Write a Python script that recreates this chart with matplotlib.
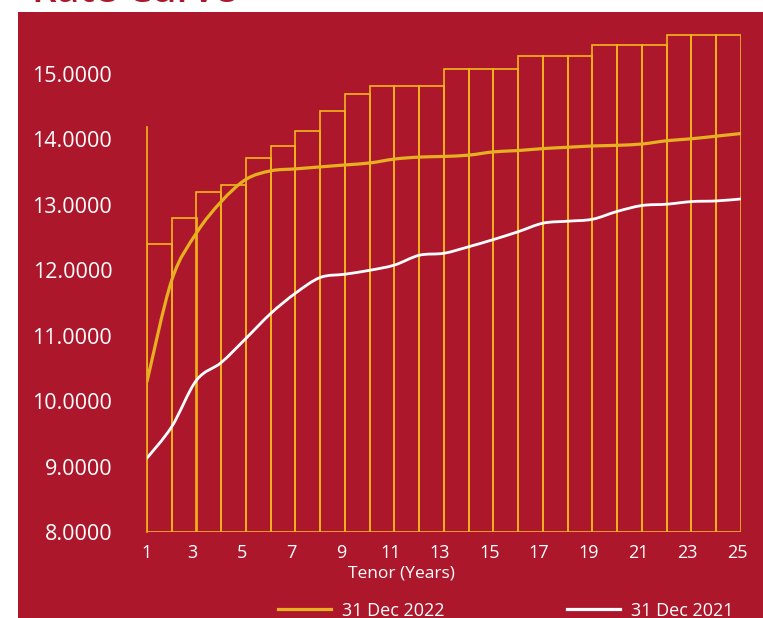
import numpy as np
import matplotlib.pyplot as plt
import matplotlib.transforms as mtransforms
from matplotlib.path import Path
from matplotlib.patches import PathPatch, Rectangle
from matplotlib.lines import Line2D

plt.rcParams['font.family'] = ['Open Sans', 'DejaVu Sans']

RED = '#AD172C'
GOLD = '#F2B51C'
GOLD_LINE = '#E6B021'

# -----------------------------------------
# DATA
# -----------------------------------------
tenors = np.arange(1, 26)
rates_2022 = [10.30, 11.85, 12.57, 13.05, 13.39, 13.52, 13.55, 13.58, 13.61, 13.64,
              13.70, 13.73, 13.74, 13.76, 13.81, 13.83, 13.86, 13.88, 13.90, 13.91,
              13.93, 13.98, 14.01, 14.05, 14.09]
rates_2021 = [9.13, 9.61, 10.32, 10.59, 10.96, 11.34, 11.65, 11.89, 11.94, 12.00,
              12.08, 12.23, 12.26, 12.36, 12.47, 12.59, 12.72, 12.75, 12.78, 12.90,
              12.99, 13.01, 13.05, 13.06, 13.09]
bar_heights = [12.40, 12.80, 13.19, 13.31, 13.72, 13.90, 14.13, 14.43, 14.69, 14.82,
               14.82, 14.82, 15.08, 15.08, 15.08, 15.27, 15.27, 15.27, 15.45, 15.45,
               15.45, 15.60, 15.60, 15.60]
xtick_labels = [str(t) for t in range(1, 26, 2)]
ytick_values = [8, 9, 10, 11, 12, 13, 14, 15]


def smooth_path(xs, ys):
    # smoothed line through the points (catmull-rom as bezier segments)
    pts = np.column_stack([xs, ys]).astype(float)
    ext = np.vstack([pts[0], pts, pts[-1]])
    verts = [pts[0]]
    codes = [Path.MOVETO]
    for i in range(1, len(ext) - 2):
        p0, p1, p2, p3 = ext[i - 1], ext[i], ext[i + 1], ext[i + 2]
        verts += [p1 + (p2 - p0) / 6, p2 - (p3 - p1) / 6, p2]
        codes += [Path.CURVE4] * 3
    return Path(verts, codes)


W, H = 763, 618
fig = plt.figure(figsize=(W / 100, H / 100), dpi=100)
fig.patch.set_facecolor('white')

# red panel
fig.add_artist(Rectangle((18 / W, 0), 1 - 18 / W, (H - 12) / H,
                         transform=fig.transFigure, facecolor=RED,
                         edgecolor='none', zorder=0))
# title, clipped at the top of the picture
fig.text(32 / W, 1 - 2.5 / H, 'Rate Curve', color=RED, fontsize=28,
         fontweight='semibold', va='baseline', ha='left')

ax = fig.add_axes([147 / W, (H - 532) / H, (741 - 147) / W, (532 - 25) / H])
ax.set_facecolor('none')

# step bars
ax.bar(tenors[:-1], np.array(bar_heights) - 8, bottom=8, width=1.0, align='edge',
       facecolor='none', edgecolor=GOLD, linewidth=1.2, zorder=2)

ax.add_patch(PathPatch(smooth_path(tenors, rates_2022), facecolor='none',
                       edgecolor=GOLD_LINE, linewidth=2.3, capstyle='round', zorder=3))
ax.add_patch(PathPatch(smooth_path(tenors, rates_2021), facecolor='none',
                       edgecolor='white', linewidth=2.0, capstyle='round', zorder=3))

ax.set_xlim(1, 25)
ax.set_ylim(8, 8 + (532 - 25) / 65.43)

for s in ['top', 'right', 'bottom']:
    ax.spines[s].set_visible(False)
ax.spines['left'].set_color(GOLD)
ax.spines['left'].set_linewidth(1.2)
ax.spines['left'].set_bounds(8, 14.19)

ax.set_xticks(range(1, 26, 2))
ax.set_xticklabels(xtick_labels)
ax.set_yticks(ytick_values)
ax.set_yticklabels([f'{v:.4f}' for v in ytick_values])
ax.tick_params(axis='x', length=0, pad=9, colors='white', labelsize=13)
ax.tick_params(axis='y', length=0, pad=25, colors='white', labelsize=15.5)

# labels after the first sit a little left of their tick
shift = mtransforms.ScaledTranslation(-4 / 100, 0, fig.dpi_scale_trans)
for lbl in ax.get_xticklabels()[1:]:
    lbl.set_transform(lbl.get_transform() + shift)

fig.text(401 / W, (H - 573) / H, 'Tenor (Years)', color='white', fontsize=12.5,
         ha='center', va='center')

handles = [Line2D([], [], color=GOLD_LINE, linewidth=2.3),
           Line2D([], [], color='white', linewidth=2.3)]
fig.legend(handles, ['31 Dec 2022', '31 Dec 2021'], loc='center',
           bbox_to_anchor=(506 / W, (H - 610.5) / H), ncol=2, frameon=False,
           fontsize=13, labelcolor='white', handlelength=2.93,
           handletextpad=0.6, columnspacing=6.8, borderpad=0)

fig.savefig('out.png', dpi=100, facecolor=fig.get_facecolor())
